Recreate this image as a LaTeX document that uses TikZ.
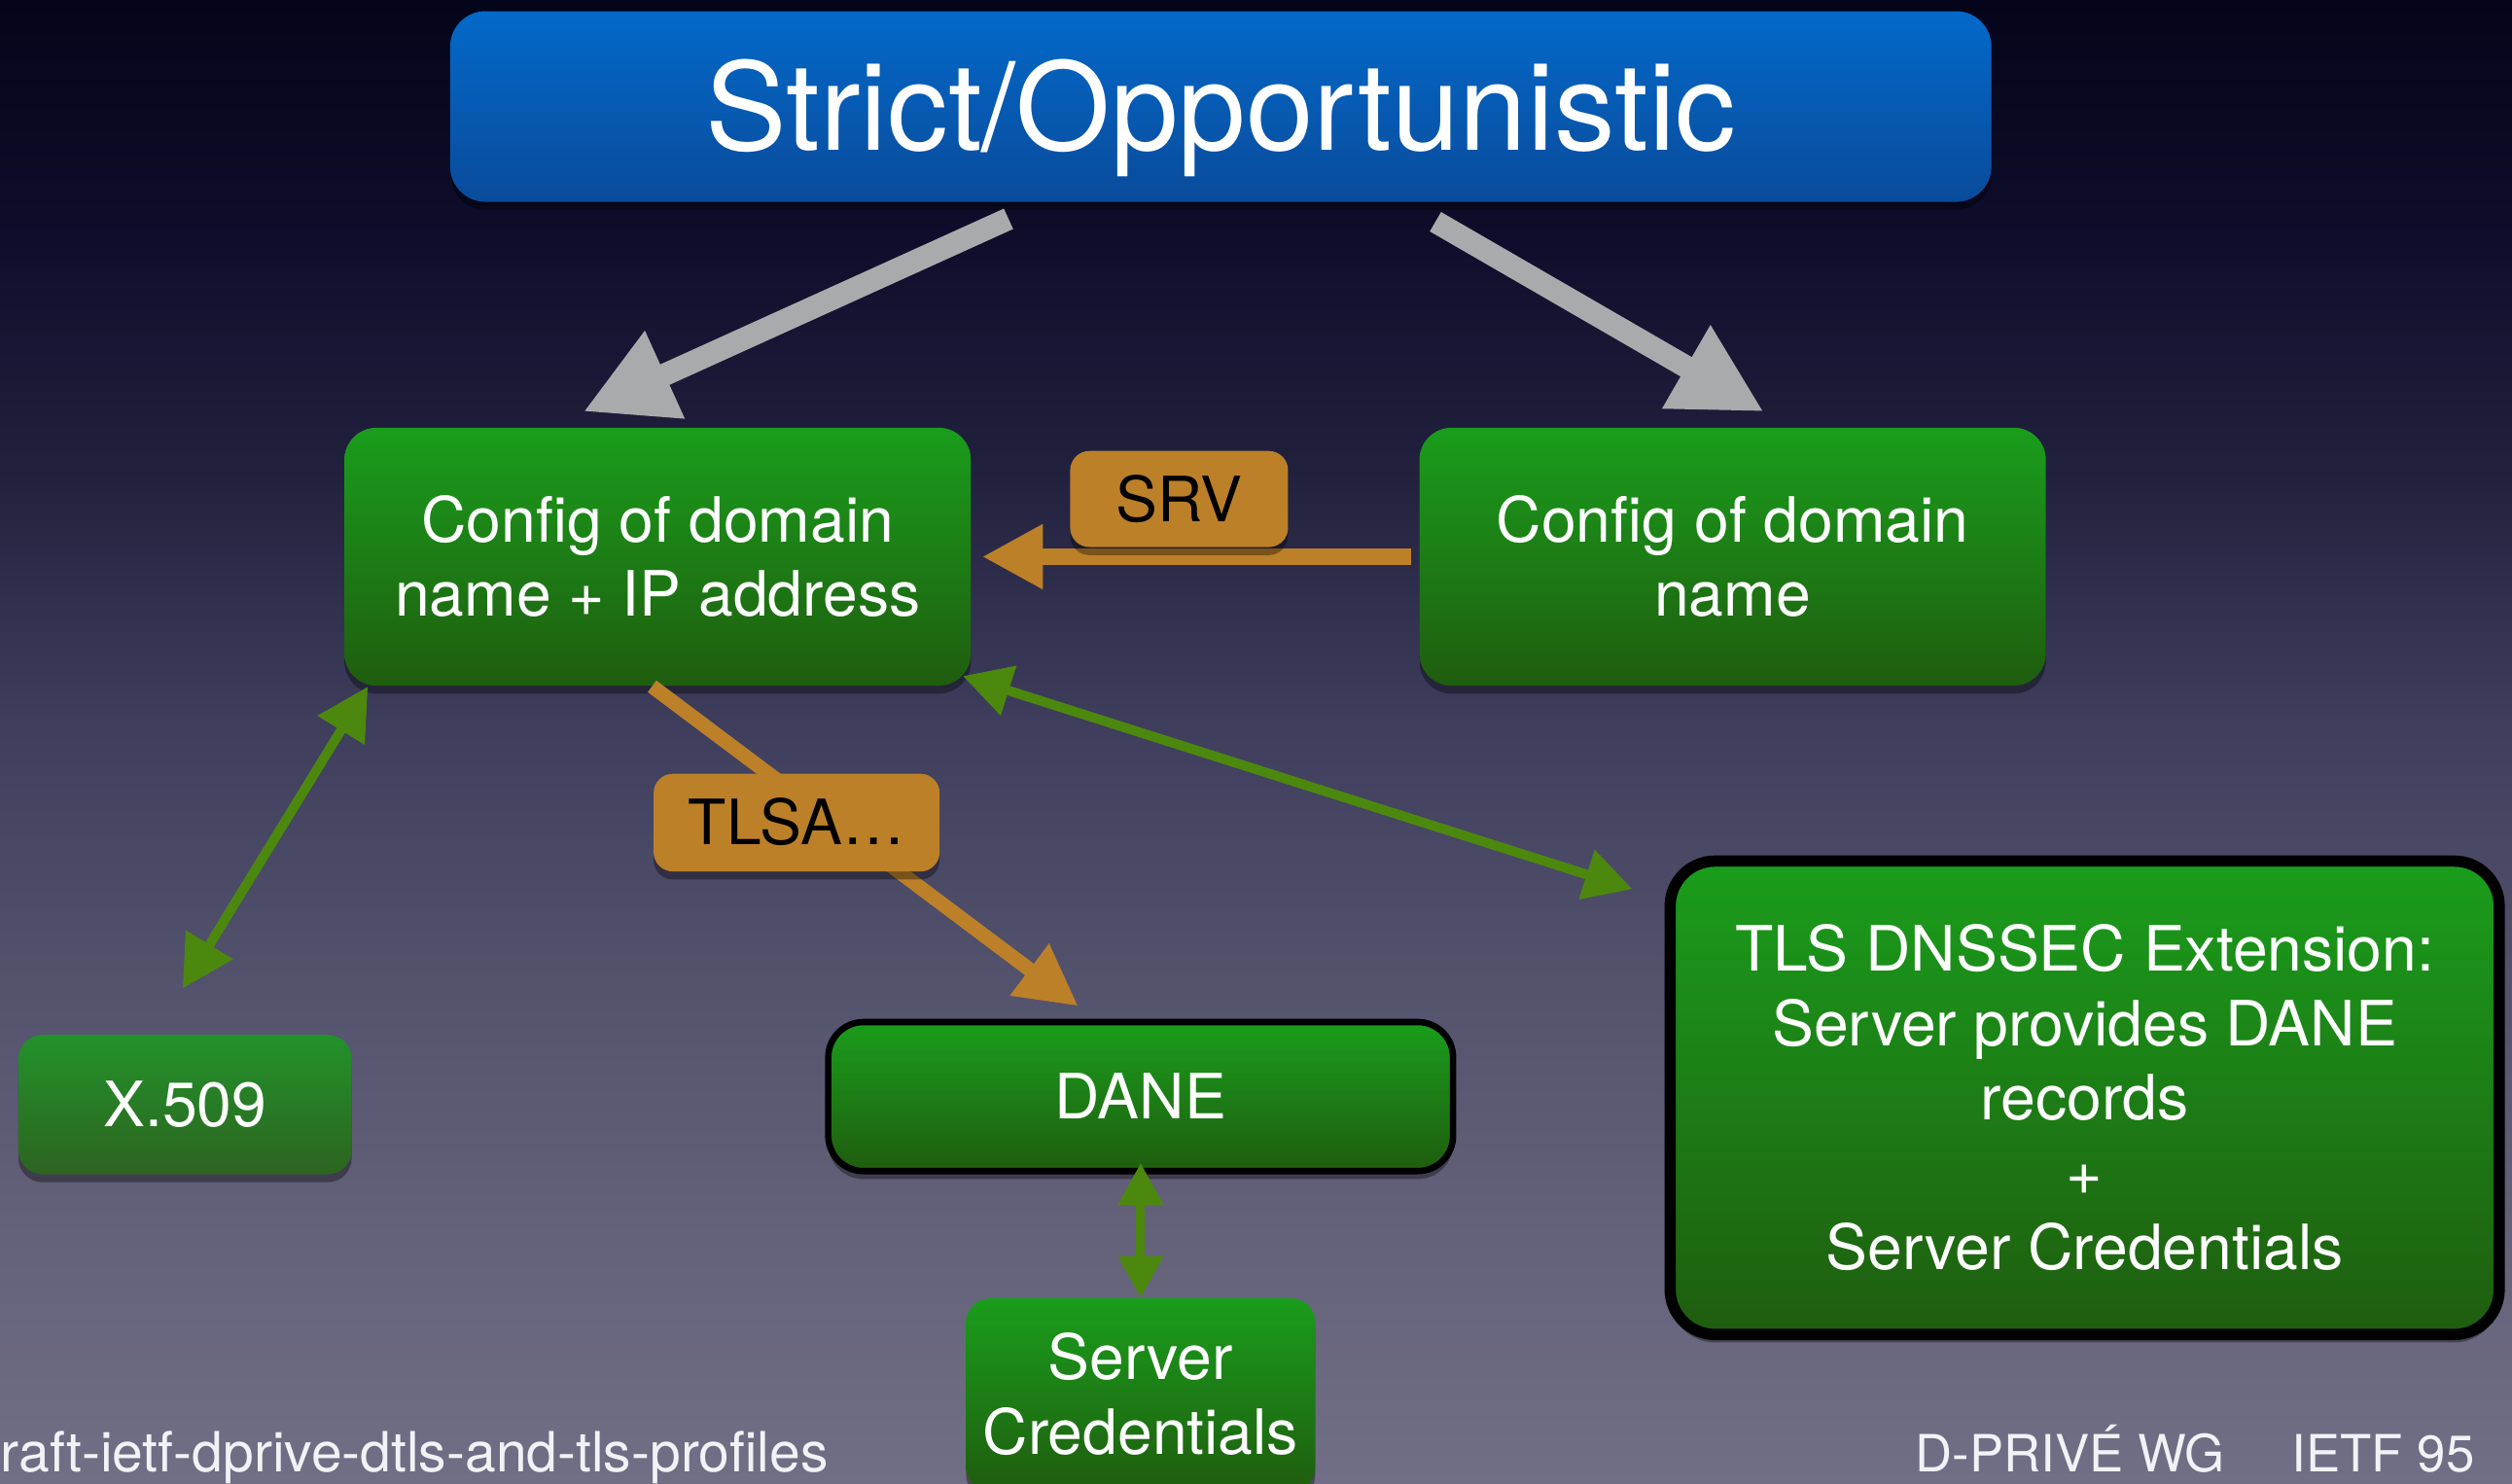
\documentclass[tikz,border=0pt]{standalone}
\usepackage{fontspec}
\setmainfont{TeX Gyre Heros}
\usetikzlibrary{arrows.meta,shadows,calc}
\definecolor{bg0}{HTML}{04041A}
\definecolor{bg1}{HTML}{0E0E2C}
\definecolor{bg2}{HTML}{22223F}
\definecolor{bg3}{HTML}{3E3D5C}
\definecolor{bg4}{HTML}{52516C}
\definecolor{bg5}{HTML}{625F78}
\definecolor{bg6}{HTML}{716F86}
\definecolor{blueTop}{HTML}{0369C9}
\definecolor{blueBot}{HTML}{0A4B9B}
\definecolor{grnTop}{HTML}{1A9D1C}
\definecolor{grnBot}{HTML}{1F5D0F}
\definecolor{xTop}{HTML}{22922A}
\definecolor{xBot}{HTML}{2D6420}
\definecolor{orng}{HTML}{BC8029}
\definecolor{gryArrow}{HTML}{A7ABAB}
\definecolor{grnArrow}{HTML}{4C880E}
\definecolor{footC}{HTML}{F2F2F6}
\pgfdeclareverticalshading{bgshade}{100bp}{color(0bp)=(bg6); color(25bp)=(bg6); color(34.5bp)=(bg5); color(42.6bp)=(bg4); color(50.7bp)=(bg3); color(58.8bp)=(bg2); color(66.9bp)=(bg1); color(75bp)=(bg0); color(100bp)=(bg0)}
\newcommand{\mlines}[1]{\begin{tabular}[b]{@{}c@{}}#1\end{tabular}}
\begin{document}
\begin{tikzpicture}[x=0.5pt,y=-0.5pt,
  shadowed/.style={drop shadow={opacity=0.35,fill=black,shadow xshift=0pt,shadow yshift=-2.5pt}},
  boxtext/.style={text=white, font=\fontsize{19.5}{23.25}\selectfont, inner sep=0pt},
  gbox/.style={shadowed, boxtext, rounded corners=10pt, shading=axis, top color=grnTop, bottom color=grnBot},
  xbox/.style={shadowed, boxtext, rounded corners=7.5pt, shading=axis, top color=xTop, bottom color=xBot},
  tbox/.style={shadowed, rounded corners=11pt, shading=axis, top color=blueTop, bottom color=blueBot, text=white, font=\fontsize{38}{45}\selectfont, inner sep=0pt, text height=27.3pt, text depth=0pt},
  lblbox/.style={shadowed, fill=orng, rounded corners=6pt, text=black, font=\fontsize{19.5}{23.25}\selectfont, inner sep=0pt, text height=14pt, text depth=0pt},
  oneline/.style={text height=14pt, text depth=0pt},
  twoline/.style={text height=37.25pt, text depth=0pt},
  grayarrow/.style={draw=gryArrow, line width=7pt, -{Triangle[length=28pt,width=28pt]}},
  orangearrow/.style={draw=orng, line width=5pt, -{Triangle[length=19pt,width=19pt]}},
  greendbl/.style={draw=grnArrow, line width=3pt, {Triangle[length=16pt,width=16.5pt]}-{Triangle[length=16pt,width=16.5pt]}},
  footer/.style={text=footC, inner sep=0pt}
]
\useasboundingbox (0,0) rectangle (1568,926);
\clip (0,0) rectangle (1568,926);
\shade[shading=bgshade] (0,0) rectangle (1568,926);

% title
\node[tbox, minimum width=481pt, minimum height=59.5pt] (T) at (762,66.5) {Strict/Opportunistic};

% green boxes
\node[gbox, twoline, minimum width=195.5pt, minimum height=80.5pt] (A) at (410.5,347.5) {\mlines{Config of domain\\name + IP address}};
\node[gbox, twoline, minimum width=195.5pt, minimum height=80.5pt] (B) at (1081.5,347.5) {\mlines{Config of domain\\name}};
\node[xbox, oneline, minimum width=104pt, minimum height=43.5pt] (X) at (115.5,689.5) {X.509};
\node[gbox, oneline, draw=black, line width=2pt, rounded corners=11pt, minimum width=195pt, minimum height=46.5pt] (D) at (712,684.5) {DANE};
\node[gbox, twoline, rounded corners=7.5pt, minimum width=109pt, minimum height=60.1pt] (SC) at (712,870.6) {\mlines{Server\\Credentials}};
\node[gbox, text height=107pt, text depth=0pt, draw=black, line width=3.5pt, rounded corners=14pt, minimum width=258.75pt, minimum height=147.75pt] (S) at (1301.25,685.25) {\mlines{TLS DNSSEC Extension:\\Server provides DANE\\records\\+\\Server Credentials}};

% gray arrows from the title
\coordinate (g1s) at (629.5,136.6);
\coordinate (g1e) at (364,257);
\coordinate (g2s) at (896,138.4);
\coordinate (g2e) at (1101,257);
\draw[grayarrow] (g1s) -- (g1e);
\draw[grayarrow] (g2s) -- (g2e);

% SRV arrow and label
\draw[orangearrow] ([xshift=-2.5pt]B.west) -- ([xshift=3.3pt]A.east);
\node[lblbox, minimum width=68pt, minimum height=30pt] (srv) at (736,311.5) {SRV};

% TLSA arrow and label
\coordinate (tlsaTip) at (673,628);
\draw[orangearrow, line width=4.5pt] ($(A.south)+(-3.5,0)$) -- (tlsaTip);
\node[lblbox, minimum width=89.25pt, minimum height=30.5pt] (tlsa) at (497.25,513.5) {TLSA…};

% green double arrows
\coordinate (xa) at (229.6,428.6);
\coordinate (xb) at (114,617);
\draw[greendbl] (xa) -- (xb);
\coordinate (sa) at (601,422);
\coordinate (sb) at (1019,555);
\draw[greendbl, {Triangle[length=15pt,width=15.5pt]}-{Triangle[length=15pt,width=15.5pt]}] (sa) -- (sb);
\draw[greendbl, line width=2.75pt, {Triangle[length=13pt,width=13.5pt]}-{Triangle[length=13pt,width=13.5pt]}] ($(D.south)+(0,-7)$) -- (SC.north);

% footer
\node[footer, font=\fontsize{17.3}{20}\selectfont, anchor=base west] (f1) at (0,918.6) {raft-ietf-dprive-dtls-and-tls-profiles};
\node[footer, font=\fontsize{16}{20}\selectfont, anchor=base east] (f2) at (1545,918.6) {D-PRIVÉ WG\hspace{21pt}IETF 95};
\end{tikzpicture}
\end{document}
